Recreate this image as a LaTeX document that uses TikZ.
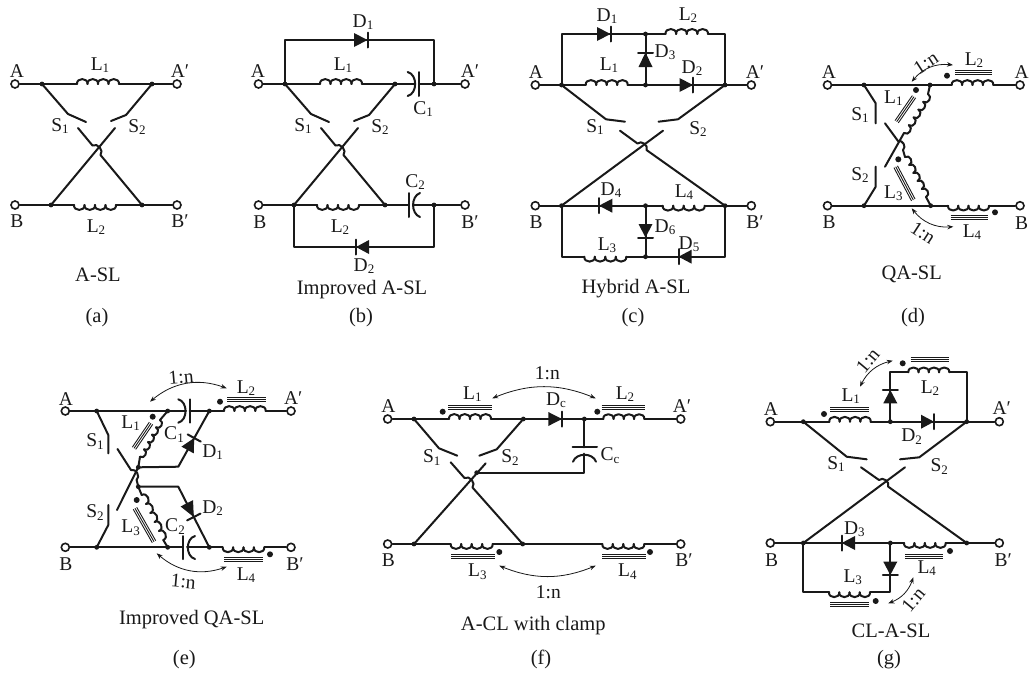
\documentclass[tikz,border=0pt]{standalone}
\usepackage{fontspec}
\setmainfont{Liberation Serif}
\usetikzlibrary{calc,arrows.meta}
\newcommand\sbs[1]{\raisebox{-.28ex}{\fontsize{13}{13}\selectfont #1}}
\newcommand\mkpts[1]{\foreach \nn/\xx/\yy in {#1}{\coordinate (\nn) at (\xx,\yy);}}
\newcommand\mkterm[1]{\foreach \nn/\xx/\yy in {#1}{\node[terminal] (\nn) at (\xx,\yy) {};}}
\newcommand\mklab[1]{\foreach \nn/\xx/\yy/\tx in {#1}{\node[lbl] (\nn) at (\xx,\yy) {\tx};}}
\newcommand\mkcap[1]{\foreach \nn/\xx/\yy/\tx in {#1}{\node[capt] (\nn) at (\xx,\yy) {\tx};}}
\newcommand\mkdots[1]{\foreach \nn in {#1}{\fill (\nn) circle (2.4);}}
\newcommand\mkpol[1]{\foreach \nn in {#1}{\fill (\nn) circle (3);}}
% inductor: [turns]{from}{to}{left|right}
\newcommand\indc[4][4]{\foreach \ii in {1,...,#1}{%
  \pgfmathsetmacro\fa{(\ii-1)/#1}\pgfmathsetmacro\fb{\ii/#1}%
  \draw[wire] ($(#2)!\fa!(#3)$) to[bend #4=95,looseness=1.6] ($(#2)!\fb!(#3)$);}}
% magnetic core: three thin lines
\newcommand\corex[2]{\draw[corel] (#1) -- (#2);
  \draw[corel] ($(#1)!2pt!90:(#2)$) -- ($(#2)!2pt!-90:(#1)$);
  \draw[corel] ($(#1)!2pt!-90:(#2)$) -- ($(#2)!2pt!90:(#1)$);}
% diode: {base}{apex}
\newcommand\dio[2]{\fill ($(#1)!7pt!90:(#2)$) -- ($(#1)!7pt!-90:(#2)$) -- (#2) -- cycle;
  \draw[wire] ($(#2)!7.5pt!90:(#1)$) -- ($(#2)!7.5pt!-90:(#1)$);}
% the crossed switch pair
\newcommand\xsw[1]{\draw[wire] (#1J1) -- (#1S1m) -- (#1S1t);
  \draw[wire] (#1J2) -- (#1S2m) -- (#1S2t);
  \draw[wire] (#1C1) -- (#1X1) to[bend left=80,looseness=1.2] (#1X2) -- (#1J4);
  \draw[wire] (#1C2) -- (#1J3);}
\tikzset{
  wire/.style={line width=2pt,line cap=round,line join=round,color=ink},
  corel/.style={line width=.9pt,color=ink},
  terminal/.style={circle,draw=ink,fill=white,line width=1.6pt,minimum size=8pt,inner sep=0pt},
  lbl/.style={text=ink,inner sep=0pt,font=\fontsize{19.5}{21}\selectfont},
  capt/.style={text=ink,inner sep=0pt,font=\fontsize{20.5}{22}\selectfont},
  ratio/.style={line width=.8pt,color=ink,{Stealth[length=6pt,width=4.5pt]}-{Stealth[length=6pt,width=4.5pt]}}
}
\definecolor{ink}{gray}{0.1}
\begin{document}
\begin{tikzpicture}[x=1pt,y=-1pt,color=ink]
\useasboundingbox (0,0) rectangle (1029,673);
% ---------- (a)
\mkpts{aJ1/42/84,aJ2/152/84,aJ3/51/205,aJ4/142/205,aL1s/77/84,aL1e/119/84,aL2s/74/205,aL2e/116/205,
 aS1m/68/114,aS1t/86/122,aS2m/126/115,aS2t/111/121,aC1/78/128,aC2/115/128,aX1/92.5/145.5,aX2/100.5/155}
\mkterm{aA/15/84,aAp/177/84,aB/15/205,aBp/177/205}
\draw[wire] (aA) -- (aJ1) -- (aL1s) (aL1e) -- (aJ2) -- (aAp);
\draw[wire] (aB) -- (aJ3) -- (aL2s) (aL2e) -- (aJ4) -- (aBp);
\indc{aL1s}{aL1e}{left}\indc{aL2s}{aL2e}{right}\xsw{a}
\mkdots{aJ1,aJ2,aJ3,aJ4}
\mklab{laA/17/71/A,laAp/180/71/A′,laB/17/221/B,laBp/180/221/B′,laL1/100/65/L\sbs{1},laL2/96/227/L\sbs{2},
 laS1/60/126/S\sbs{1},laS2/137/127/S\sbs{2}}
\mkcap{laCap/98/275/A-SL,laSub/97/318/(a)}
% ---------- (b)
\mkpts{bJ1/285/84,bJ2/395/84,bJ3/294/205,bJ4/385/205,bL1s/320/84,bL1e/362/84,bL2s/317/205,bL2e/359/205,
 bS1m/311/114,bS1t/329/122,bS2m/369/115,bS2t/354/121,bC1/321/128,bC2/358/128,bX1/335.5/145.5,bX2/343.5/155,
 bT1/285/40,bT2/434/40,bR1/434/84,bD1b/354/40,bD1a/367.5/40,
 bBl/294/247,bBr/434/247,bR2/434/205,bD2b/369/247,bD2a/356/247,
 bC1c/415/84,bC1f/419.3/84,bC1u/407.7/72,bC1d/407.7/96,bC1fu/419.3/72,bC1fd/419.3/96,
 bC2f/409/205,bC2c/413/205,bC2u/420/193,bC2d/420/217,bC2fu/409/193,bC2fd/409/217}
\mkterm{bA/258.5/84,bAp/465/84,bB/258.5/205,bBp/465/205}
\draw[wire] (bA) -- (bJ1) -- (bL1s) (bL1e) -- (bJ2) -- (bC1c) (bC1f) -- (bR1) -- (bAp);
\draw[wire] (bJ1) -- (bT1) -- (bT2) -- (bR1);
\draw[wire] (bB) -- (bJ3) -- (bL2s) (bL2e) -- (bJ4) -- (bC2f) (bC2c) -- (bR2) -- (bBp);
\draw[wire] (bJ3) -- (bBl) -- (bBr) -- (bR2);
\draw[wire] (bC1fu) -- (bC1fd) (bC2fu) -- (bC2fd);
\draw[wire] (bC1u) to[bend left=75,looseness=1.1] (bC1d);
\draw[wire] (bC2u) to[bend right=70,looseness=1.05] (bC2d);
\dio{bD1b}{bD1a}\dio{bD2b}{bD2a}
\indc{bL1s}{bL1e}{left}\indc{bL2s}{bL2e}{right}\xsw{b}
\mkdots{bJ1,bJ2,bJ3,bJ4,bR1,bR2}
\mklab{lbA/258/71/A,lbAp/470/71/A′,lbB/260/222/B,lbBp/470/222/B′,lbL1/343/65/L\sbs{1},lbL2/340/227/L\sbs{2},
 lbS1/303/126/S\sbs{1},lbS2/380/127/S\sbs{2},lbC1/423/109/C\sbs{1},lbC2/415/182/C\sbs{2},lbD1/363/22/D\sbs{1},
 lbD2/364/266/D\sbs{2}}
\mkcap{lbCap/362/290/Improved A-SL,lbSub/361/318/(b)}
% ---------- (c)
\mkpts{cJ1/561.5/85,cJ2/725/85,cJ3/561.5/205.7,cJ4/725/205.7,cS1m/606/119.3,cS1t/625/121.7,cS2m/678/119.3,cS2t/658.5/121.7,
 cC1/620/130.7,cC2/663/130.7,cX1/637.5/143.5,cX2/646.5/150,
 cTl/561.5/34,cTr/725/34,cTm/645.5/34,cMm/645.5/85,cBm/645.5/205.7,cBtm/645.5/256.7,cBl/561.5/256.7,cBr/725/256.7,
 cL1s/585.7/85,cL1e/627.7/85,cL2s/665.5/34,cL2e/708/34,cL3s/584.3/256.7,cL3e/626.3/256.7,cL4s/662.7/205.7,cL4e/704.7/205.7,
 cD1b/597/34,cD1a/610.5/34,cD2b/679.5/85,cD2a/693/85,cD3b/645.5/67,cD3a/645.5/52.5,cD4b/612.3/205.7,cD4a/599/205.7,
 cD5b/691.7/256.7,cD5a/678.5/256.7,cD6b/645.5/224,cD6a/645.5/237.5}
\mkterm{cA/535.3/85,cAp/751.3/85,cB/535.3/205.7,cBp/751.3/205.7}
\draw[wire] (cA) -- (cJ1) -- (cL1s) (cL1e) -- (cMm) -- (cJ2) -- (cAp);
\draw[wire] (cJ1) -- (cTl) -- (cTm) -- (cL2s) (cL2e) -- (cTr) -- (cJ2);
\draw[wire] (cTm) -- (cMm);
\draw[wire] (cB) -- (cJ3) -- (cBm) -- (cL4s) (cL4e) -- (cJ4) -- (cBp);
\draw[wire] (cJ3) -- (cBl) -- (cL3s) (cL3e) -- (cBtm) -- (cBr) -- (cJ4);
\draw[wire] (cBm) -- (cBtm);
\dio{cD1b}{cD1a}\dio{cD2b}{cD2a}\dio{cD3b}{cD3a}\dio{cD4b}{cD4a}\dio{cD5b}{cD5a}\dio{cD6b}{cD6a}
\indc{cL1s}{cL1e}{left}\indc{cL2s}{cL2e}{left}\indc{cL3s}{cL3e}{right}\indc{cL4s}{cL4e}{right}\xsw{c}
\mkdots{cJ1,cJ2,cJ3,cJ4,cTm,cMm,cBm,cBtm}
\mklab{lcA/536/72/A,lcAp/755/72/A′,lcB/536/222/B,lcBp/755/222/B′,lcD1/607/16/D\sbs{1},lcL2/688/15/L\sbs{2},lcD3/665/52/D\sbs{3},
 lcL1/609/65/L\sbs{1},lcD2/692/68/D\sbs{2},lcS1/595/127/S\sbs{1},lcS2/698/129/S\sbs{2},lcD4/611/190/D\sbs{4},lcL4/684/192/L\sbs{4},
 lcD6/665/227/D\sbs{6},lcD5/689/244/D\sbs{5},lcL3/607/245/L\sbs{3}}
\mkcap{lcCap/636/289/Hybrid A-SL,lcSub/633/318/(c)}
% ---------- (d)
\mkpts{dJ1/864/85,dJ2/930/85,dJ3/864/205.7,dJ4/930.7/205.7,dL2s/951.7/85,dL2e/993.3/85,dL4s/948/205.7,dL4e/989/205.7,
 dS1m/875.7/103.3,dS1t/875.7/123.3,dS2m/875.7/186.7,dS2t/875.7/166.7,dC1/885/123.3,dC2/885/166.7,dX1/898/141,dX2/903/150,
 dL1s/928/94,dL1e/904/133,dL3s/905/157,dL3e/926/197,
 dK1a/955/72.7,dK1b/992/72.7,dK2a/950.7/217,dK2b/987.7/217,dK3a/914/96.7,dK3b/896.7/121.7,dK4a/895.7/166.7,dK4b/913.3/200,
 dP1/947/75.7,dP2/995/212.3,dP3/916/90,dP4/898.3/159.3,
 dR1s/911.7/81.7,dR1e/953/65,dR2s/911.7/208.3,dR2e/953.3/226.7}
\mkterm{dA/827.5/85,dAp/1020/85,dB/827.5/205.7,dBp/1020/205.7}
\draw[wire] (dA) -- (dJ1) -- (dJ2) -- (dL2s) (dL2e) -- (dAp);
\draw[wire] (dB) -- (dJ3) -- (dJ4) -- (dL4s) (dL4e) -- (dBp);
\draw[wire] (dJ1) -- (dS1m) -- (dS1t);
\draw[wire] (dJ3) -- (dS2m) -- (dS2t);
\draw[wire] (dC1) -- (dX1) to[bend left=80,looseness=1.2] (dX2) -- (dL3s);
\draw[wire] (dC2) -- (dL1e);
\draw[wire] (dJ2) -- (dL1s);
\draw[wire] (dL3e) -- (dJ4);
\indc{dL2s}{dL2e}{left}\indc{dL4s}{dL4e}{right}\indc[5]{dL1s}{dL1e}{left}\indc[5]{dL3s}{dL3e}{left}
\corex{dK1a}{dK1b}\corex{dK2a}{dK2b}\corex{dK3a}{dK3b}\corex{dK4a}{dK4b}
\mkpol{dP1,dP2,dP3,dP4}
\draw[ratio] (dR1s) to[bend left=28] (dR1e);
\draw[ratio] (dR2s) to[bend right=28] (dR2e);
\mkdots{dJ1,dJ2,dJ3,dJ4}
\mklab{ldA/829/72/A,ldAp/1021.7/72/A,ldB/829/222/B,ldBp/1021.7/222.7/B,ldL2/974/60/L\sbs{2},ldL4/972/232/L\sbs{4},
 ldL1/893.3/98/L\sbs{1},ldL3/893.3/193/L\sbs{3},ldS1/860/115/S\sbs{1},ldS2/860/175/S\sbs{2}}
\mkcap{ldCap/911.7/274.3/QA-SL,ldSub/913/318/(d)}
\node[lbl,rotate=33] (ldR1) at (926,63) {1:n};
\node[lbl,rotate=-33] (ldR2) at (923,232.7) {1:n};
% ---------- (e)
\mkpts{eJ1/96.7/411,eJ2/167.7/411,eJ5/209.3/411,eJ3/96.7/547.3,eJ4/167.7/547.3,eJ6/209.3/547.3,
 eS1m/108.3/435,eS1t/108.3/453.3,eS2m/108.3/525,eS2t/108.3/505,eC1/117.5/449,eC2/117/510,eX1/131/470,eX2/136.6/480,
 eN1/138.3/467.3,eN2/138.3/486.7,eL1s/160/420,eL1e/140/456.7,eL3s/141.7/495,eL3e/163.3/540,
 eM1/178.3/466.7,eM2/178.3/486.7,eD1b/187.6/450,eD1a/194.2/438,eD2b/186.8/503.3,eD2a/193.8/517,
 eL2s/224/411,eL2e/265.7/411,eL4s/222.7/547.3,eL4e/264.3/547.3,
 eC1c/186/411,eC1f/189.6/411,eC1u/178.3/399.3,eC1d/178.3/422.7,eC1fu/189.6/399.3,eC1fd/189.6/422.7,
 eC2f/183/547.3,eC2c/187/547.3,eC2u/195/536,eC2d/195/559,eC2fu/183/536,eC2fd/183/559,
 eK1a/227.3/399,eK1b/265.7/399,eK2a/224/559.3,eK2b/262.7/559.3,eK3a/151/423.3,eK3b/134/448.3,eK4a/135/508.3,eK4b/154/541.7,
 eP1/220/401.7,eP2/270/554.3,eP3/152.7/416.7,eP4/136.7/500,
 eR1s/150/401.7,eR1e/226.7/388.3,eR2s/156.7/553.3,eR2e/226.7/566.7}
\mkterm{eA/65.3/411,eAp/291/411,eB/65.3/547.3,eBp/291/547.3}
\draw[wire] (eA) -- (eJ1) -- (eJ2) -- (eC1c) (eC1f) -- (eJ5) -- (eL2s) (eL2e) -- (eAp);
\draw[wire] (eB) -- (eJ3) -- (eJ4) -- (eC2f) (eC2c) -- (eJ6) -- (eL4s) (eL4e) -- (eBp);
\draw[wire] (eJ1) -- (eS1m) -- (eS1t);
\draw[wire] (eJ3) -- (eS2m) -- (eS2t);
\draw[wire] (eC1) -- (eX1) to[bend left=80,looseness=1.2] (eX2) -- (eN2) -- (eL3s);
\draw[wire] (eC2) -- (eN1) -- (eL1e);
\draw[wire] (eJ2) -- (eL1s);
\draw[wire] (eL3e) -- (eJ4);
\draw[wire] (eN1) -- (eM1) -- (eJ5);
\draw[wire] (eN2) -- (eM2) -- (eJ6);
\draw[wire] (eC1fu) -- (eC1fd) (eC2fu) -- (eC2fd);
\draw[wire] (eC1u) to[bend left=75,looseness=1.1] (eC1d);
\draw[wire] (eC2u) to[bend right=75,looseness=1.1] (eC2d);
\dio{eD1b}{eD1a}\dio{eD2b}{eD2a}
\indc{eL2s}{eL2e}{left}\indc{eL4s}{eL4e}{right}\indc[5]{eL1s}{eL1e}{left}\indc[5]{eL3s}{eL3e}{left}
\corex{eK1a}{eK1b}\corex{eK2a}{eK2b}\corex{eK3a}{eK3b}\corex{eK4a}{eK4b}
\mkpol{eP1,eP2,eP3,eP4}
\draw[ratio] (eR1s) to[bend left=30] (eR1e);
\draw[ratio] (eR2s) to[bend right=30] (eR2e);
\mkdots{eJ1,eJ2,eJ3,eJ4,eJ5,eJ6,eN1,eN2}
\mklab{leA/66/399/A,leAp/293.3/398.3/A′,leB/66/564/B,leBp/295/564/B′,leL2/246/388.3/L\sbs{2},leL4/246/575/L\sbs{4},
 leL1/130.7/423.3/L\sbs{1},leL3/130.7/527.7/L\sbs{3},leS1/95/441.7/S\sbs{1},leS2/95/512.3/S\sbs{2},leC1/174/434.3/C\sbs{1},
 leC2/175/526.7/C\sbs{2},leD1/212.7/452.3/D\sbs{1},leD2/212.7/508.3/D\sbs{2}}
\mkcap{leCap/191.7/619.3/Improved QA-SL,leSub/184.3/659.3/(e)}
\node[lbl,rotate=5] (leR1) at (181,377.3) {1:n};
\node[lbl,rotate=-5] (leR2) at (183.3,581.7) {1:n};
% ---------- (f)
\mkpts{fJ1/414/419,fJ2/523.3/419,fJ3/414/544,fJ4/522.7/544,fJ5/584.3/419,fJ6/476.7/472.7,
 fS1m/439/448.3,fS1t/457.3/455.7,fS2m/496.7/449.3,fS2t/479.3/455.7,fC1/450.7/462.3,fC2/485.7/463.3,fX1/464.5/478,fX2/472.5/487.5,
 fL1s/449/419,fL1e/491/419,fL2s/603.3/419,fL2e/644.3/419,fL3s/450.7/544,fL3e/492.7/544,fL4s/602.3/544,fL4e/644.3/544,
 fDb/548.3/419,fDa/562/419,fCa/584.3/447.3,fCb/584.3/453.5,fCl/572.7/447.3,fCr/597/447.3,fCcl/573/461.7,fCcr/596/461.7,fCe/584.3/472.7,
 fK1a/448.3/407.7,fK1b/491.7/407.7,fK2a/601.7/407.7,fK2b/645/407.7,fK3a/451/556.7,fK3b/495/556.7,fK4a/602/556.7,fK4b/646/556.7,
 fP1/442.7/411.7,fP2/597.3/411.7,fP3/499.3/552,fP4/650/552,
 fR1s/492.3/398.3,fR1e/595.7/398.3,fR2s/499.3/565.7,fR2e/595.7/565.7}
\mkterm{fA/387.7/419,fAp/680.7/419,fB/387.7/544,fBp/680.7/544}
\draw[wire] (fA) -- (fJ1) -- (fL1s) (fL1e) -- (fJ2) -- (fJ5) -- (fL2s) (fL2e) -- (fAp);
\draw[wire] (fB) -- (fJ3) -- (fL3s) (fL3e) -- (fJ4) -- (fL4s) (fL4e) -- (fBp);
\draw[wire] (fJ5) -- (fCa) (fCl) -- (fCr);
\draw[wire] (fCcl) to[bend left=70,looseness=1.1] (fCcr);
\draw[wire] (fCb) -- (fCe) -- (fJ6);
\dio{fDb}{fDa}
\indc{fL1s}{fL1e}{left}\indc{fL2s}{fL2e}{left}\indc{fL3s}{fL3e}{right}\indc{fL4s}{fL4e}{right}\xsw{f}
\corex{fK1a}{fK1b}\corex{fK2a}{fK2b}\corex{fK3a}{fK3b}\corex{fK4a}{fK4b}
\mkpol{fP1,fP2,fP3,fP4}
\draw[ratio] (fR1s) to[bend left=22] (fR1e);
\draw[ratio] (fR2s) to[bend right=22] (fR2e);
\mkdots{fJ1,fJ2,fJ3,fJ4,fJ5,fJ6}
\mklab{lfA/388.3/405.7/A,lfAp/682/405.7/A′,lfB/388.3/560/B,lfBp/684/560/B′,lfL1/472.3/394/L\sbs{1},lfL2/625/394/L\sbs{2},
 lfDc/556/400/D\sbs{c},lfCc/610/455.7/C\sbs{c},lfS1/431.7/457.3/S\sbs{1},lfS2/510/457.3/S\sbs{2},lfL3/477.3/571.7/L\sbs{3},
 lfL4/627.3/571.7/L\sbs{4},lfR1/547.3/372.7/1:n,lfR2/548.3/591.7/1:n}
\mkcap{lfCap/533.3/626/A-CL with clamp,lfSub/541/659.3/(f)}
% ---------- (g)
\mkpts{gJ1/803.3/421.7,gJ2/966.7/421.7,gJ3/803.3/543,gJ4/966.7/543,gJ5/890.3/421.7,gJ6/890.3/543,
 gS1m/846.7/456.7,gS1t/866.7/459.3,gS2m/919.3/457.3,gS2t/900/459.3,gC1/861/467.3,gC2/905/467.3,gX1/879/480,gX2/888/486.5,
 gL1s/829.3/421.7,gL1e/870.7/421.7,gL2s/908.3/372.3,gL2e/949.3/372.3,gL3s/829/592.3,gL3e/870/592.3,gL4s/904/543,gL4e/945.7/543,
 gTl/890.3/372.3,gTr/966.7/372.3,gBl/803.3/592.3,gBr/890.3/592.3,
 gD1b/890.3/403.3,gD1a/890.3/390,gD2b/921/421.7,gD2a/934/421.7,gD3b/855/543,gD3a/841.7/543,gD4b/890.3/561.7,gD4a/890.3/575,
 gK1a/830/409.7,gK1b/869/409.7,gK2a/910.7/359.3,gK2b/949/359.3,gK3a/830/604.3,gK3b/869/604.3,gK4a/905/556,gK4b/943.3/556,
 gP1/824/414,gP2/902.7/363.3,gP3/875.7/601,gP4/950/551,
 gR1s/860/386.7,gR1e/892.7/360.7,gR2s/888.3/603.3,gR2e/913.3/577.3}
\mkterm{gA/770.3/421.7,gAp/999.3/421.7,gB/770.3/543,gBp/999.3/543}
\draw[wire] (gA) -- (gJ1) -- (gL1s) (gL1e) -- (gJ5) -- (gJ2) -- (gAp);
\draw[wire] (gJ5) -- (gTl) -- (gL2s) (gL2e) -- (gTr) -- (gJ2);
\draw[wire] (gB) -- (gJ3) -- (gJ6) -- (gL4s) (gL4e) -- (gJ4) -- (gBp);
\draw[wire] (gJ6) -- (gBr) -- (gL3e) (gL3s) -- (gBl) -- (gJ3);
\dio{gD1b}{gD1a}\dio{gD2b}{gD2a}\dio{gD3b}{gD3a}\dio{gD4b}{gD4a}
\indc{gL1s}{gL1e}{left}\indc{gL2s}{gL2e}{left}\indc{gL3s}{gL3e}{right}\indc{gL4s}{gL4e}{right}\xsw{g}
\corex{gK1a}{gK1b}\corex{gK2a}{gK2b}\corex{gK3a}{gK3b}\corex{gK4a}{gK4b}
\mkpol{gP1,gP2,gP3,gP4}
\draw[ratio] (gR1s) to[bend left=25] (gR1e);
\draw[ratio] (gR2s) to[bend right=25] (gR2e);
\mkdots{gJ1,gJ2,gJ3,gJ4,gJ5,gJ6}
\mklab{lgA/771/409.3/A,lgAp/1001.7/408.3/A′,lgB/771.7/560/B,lgBp/1003.3/560/B′,lgL1/850.7/396/L\sbs{1},lgL2/930/388.3/L\sbs{2},
 lgD2/911.7/436.7/D\sbs{2},lgS1/836/464/S\sbs{1},lgS2/939.3/466.7/S\sbs{2},lgD3/854.3/529.3/D\sbs{3},lgL4/926.7/568.3/L\sbs{4},
 lgL3/852.7/577.3/L\sbs{3}}
\mkcap{lgCap/891/630.7/CL-A-SL,lgSub/889/659.3/(g)}
\node[lbl,rotate=50] (lgR1) at (867.7,360.7) {1:n};
\node[lbl,rotate=50] (lgR2) at (913.3,600) {1:n};
\end{tikzpicture}
\end{document}
